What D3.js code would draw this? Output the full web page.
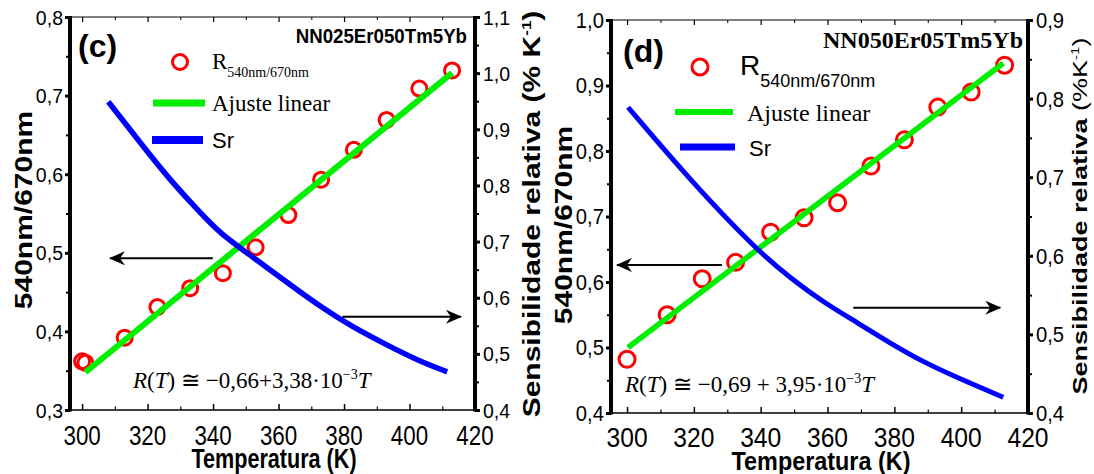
<!DOCTYPE html>
<html>
<head>
<meta charset="utf-8">
<script src="https://cdnjs.cloudflare.com/ajax/libs/d3/7.8.5/d3.min.js"></script>
<style>
	body { margin: 0; background: #fff; }
</style>
</head>
<body>
<div id="chart"></div>
<script>

///////////////////////////////////////////////////////////////////////////
///////////////////////////////// Data ////////////////////////////////////
///////////////////////////////////////////////////////////////////////////

var tempTicks = [300, 320, 340, 360, 380, 400, 420];
var tempMinor = [310, 330, 350, 370, 390, 410];

//Panel (c) - NN025Er050Tm5Yb
var cTemp  = [300, 301, 313, 323, 333, 343, 353, 363, 373, 383, 393, 403, 413];
var cRatio = [0.362, 0.360, 0.392, 0.431, 0.455, 0.474, 0.507, 0.548, 0.593, 0.631, 0.669, 0.709, 0.732];
var cFitTemp  = [301, 413];
var cFitRatio = [0.348, 0.729];
var cSrTemp = [308, 315.5, 326, 336, 342, 352, 362.4, 372.5, 382.5, 393, 403, 411.5];
var cSr     = [0.949, 0.893, 0.815, 0.752, 0.715, 0.673, 0.628, 0.585, 0.548, 0.516, 0.487, 0.468];
var cLeftTicks  = [0.3, 0.4, 0.5, 0.6, 0.7, 0.8];
var cRightTicks = [0.4, 0.5, 0.6, 0.7, 0.8, 0.9, 1.0, 1.1];

//Panel (d) - NN050Er05Tm5Yb
var dTemp  = [300, 312, 322.5, 332.5, 343, 353, 363, 373, 383, 393, 403, 413];
var dRatio = [0.482, 0.550, 0.605, 0.630, 0.676, 0.698, 0.721, 0.777, 0.817, 0.867, 0.890, 0.931];
var dFitTemp  = [300.3, 412.6];
var dFitRatio = [0.500, 0.934];
var dSrTemp = [300.3, 318.9, 338.9, 348.8, 358.7, 368.9, 378.7, 388.6, 398.8, 412.6];
var dSr     = [0.789, 0.696, 0.607, 0.572, 0.541, 0.515, 0.489, 0.465, 0.445, 0.420];
var dLeftTicks  = [0.4, 0.5, 0.6, 0.7, 0.8, 0.9, 1.0];
var dRightTicks = [0.4, 0.5, 0.6, 0.7, 0.8, 0.9];

//Arrows pointing to the axis each curve belongs to [tempFrom, tempTo, value]
var cArrowLeft  = [339.9, 308.5, 0.493];
var cArrowRight = [379.5, 415.7, 0.566];
var dArrowLeft  = [328.4, 297.0, 0.626];
var dArrowRight = [367.7, 411.7, 0.534];

///////////////////////////////////////////////////////////////////////////
//////////////////////////// Set up the svg ///////////////////////////////
///////////////////////////////////////////////////////////////////////////

var sans = "'Liberation Sans', Arial, sans-serif",
	serif = "'Liberation Serif', 'Times New Roman', serif";
var fmt = function(d) { return d3.format(".1f")(d).replace(".", ","); };

var svg = d3.select("#chart").append("svg")
	.attr("width", 1094)
	.attr("height", 474)
	.style("background", "#fff");

svg.append("defs").append("marker")
	.attr("id", "arrowHead")
	.attr("viewBox", "0 -7 16 14")
	.attr("refX", 15)
	.attr("refY", 0)
	.attr("markerWidth", 16)
	.attr("markerHeight", 14)
	.attr("markerUnits", "userSpaceOnUse")
	.attr("orient", "auto")
	.append("path")
	.attr("d", "M0,-7L16,0L0,7L5,0Z")
	.style("fill", "#000");

//Text that may be squeezed horizontally (the original fonts are narrow)
function addText(g, str, x, y, o) {
	var tr = "translate(" + x + "," + y + ") scale(" + (o.sx || 1) + ",1)" + (o.rot ? " rotate(" + o.rot + ")" : "");
	return g.append("text")
		.attr("transform", tr)
		.attr("text-anchor", o.anchor || "start")
		.style("font-family", o.family || sans)
		.style("font-size", o.size + "px")
		.style("font-weight", o.weight || "normal")
		.style("font-style", o.italic ? "italic" : "normal")
		.style("fill", "#000")
		.text(str);
}

///////////////////////////////////////////////////////////////////////////
/////////////////////////////// Draw a panel //////////////////////////////
///////////////////////////////////////////////////////////////////////////

function drawPanel(p) {
	var x = d3.scaleLinear().domain(p.xDomain).range([p.left, p.right]);
	var yL = d3.scaleLinear().domain(p.yLeftDomain).range([p.bottom, p.top]);
	var yR = d3.scaleLinear().domain(p.yRightDomain).range([p.bottom, p.top]);
	var g = svg.append("g");

	//Minor ticks halfway between the major ones
	var halves = function(ticks) { return ticks.slice(1).map(function(t, i) { return (t + ticks[i]) / 2; }); };

	function ticks(axis, vals, size, w, tr) {
		g.append("g")
			.attr("transform", tr)
			.call(axis.tickValues(vals).tickSize(size).tickSizeOuter(0).tickFormat(""))
			.call(function(s) { s.select(".domain").remove(); })
			.selectAll("line").style("stroke", "#000").style("stroke-width", w);
	}
	ticks(d3.axisBottom(x), tempTicks, -6, 1.5, "translate(0," + p.bottom + ")");
	ticks(d3.axisBottom(x), tempMinor, -3.5, 1.2, "translate(0," + p.bottom + ")");
	ticks(d3.axisTop(x), tempTicks, -5, 1.2, "translate(0," + p.top + ")");
	ticks(d3.axisTop(x), tempMinor, -3, 1, "translate(0," + p.top + ")");
	ticks(d3.axisLeft(yL), p.leftTicks, 5, 3, "translate(" + p.left + ",0)");
	ticks(d3.axisLeft(yL), halves(p.leftTicks), 4, 2, "translate(" + p.left + ",0)");
	ticks(d3.axisRight(yR), p.rightTicks, 5, 3, "translate(" + p.right + ",0)");
	ticks(d3.axisRight(yR), halves(p.rightTicks), 4, 2, "translate(" + p.right + ",0)");

	//Frame: thin top and bottom, thick left and right
	g.append("line").attr("x1", p.left).attr("x2", p.right).attr("y1", p.top).attr("y2", p.top)
		.style("stroke", "#000").style("stroke-width", 1.2);
	g.append("line").attr("x1", p.left).attr("x2", p.right).attr("y1", p.bottom).attr("y2", p.bottom)
		.style("stroke", "#000").style("stroke-width", 1.6);
	[p.left, p.right].forEach(function(xx) {
		g.append("line").attr("x1", xx).attr("x2", xx).attr("y1", p.top - 1).attr("y2", p.bottom + 1.5)
			.style("stroke", "#000").style("stroke-width", 4);
	});

	//Tick labels
	tempTicks.forEach(function(t) {
		addText(g, t, x(t), p.xLabelY, { size: p.xLabelSize, sx: p.xLabelSx, anchor: "middle" });
	});
	p.leftTicks.forEach(function(t) {
		addText(g, fmt(t), p.left - 7, yL(t) + p.yLabelSize * 0.36, { size: p.yLabelSize, sx: p.yLabelSx, anchor: "end" });
	});
	p.rightTicks.forEach(function(t) {
		addText(g, fmt(t), p.right + 8, yR(t) + p.yLabelSize * 0.36, { size: p.yLabelSize, sx: p.yLabelSx });
	});

	//Data circles
	g.selectAll(".dot")
		.data(p.temp.map(function(t, i) { return [t, p.ratio[i]]; }))
		.enter().append("circle")
		.attr("class", "dot")
		.attr("cx", function(d) { return x(d[0]); })
		.attr("cy", function(d) { return yL(d[1]); })
		.attr("r", p.dotR)
		.style("fill", "none")
		.style("stroke", "#ff0000")
		.style("stroke-width", 3);

	//Linear fit
	g.append("path")
		.datum(p.fitTemp.map(function(t, i) { return [t, p.fitRatio[i]]; }))
		.attr("d", d3.line().x(function(d) { return x(d[0]); }).y(function(d) { return yL(d[1]); }))
		.style("fill", "none")
		.style("stroke", "#00ee00")
		.style("stroke-width", p.fitW);

	//Relative sensitivity
	g.append("path")
		.datum(p.srTemp.map(function(t, i) { return [t, p.sr[i]]; }))
		.attr("d", d3.line().curve(d3.curveBasis).x(function(d) { return x(d[0]); }).y(function(d) { return yR(d[1]); }))
		.style("fill", "none")
		.style("stroke", "#0000ff")
		.style("stroke-width", p.srW);

	//Arrows
	[[p.arrowLeft, yL], [p.arrowRight, yR]].forEach(function(a) {
		g.append("line")
			.attr("x1", x(a[0][0])).attr("x2", x(a[0][1]))
			.attr("y1", a[1](a[0][2])).attr("y2", a[1](a[0][2]))
			.attr("marker-end", "url(#arrowHead)")
			.style("stroke", "#000")
			.style("stroke-width", 2);
	});

	return g;
}

///////////////////////////////////////////////////////////////////////////
//////////////////////////////// Panel (c) ////////////////////////////////
///////////////////////////////////////////////////////////////////////////

var gc = drawPanel({
	left: 70, right: 475, top: 17, bottom: 410,
	xDomain: [296.3, 420], yLeftDomain: [0.3, 0.8], yRightDomain: [0.4, 1.1],
	leftTicks: cLeftTicks, rightTicks: cRightTicks,
	temp: cTemp, ratio: cRatio, fitTemp: cFitTemp, fitRatio: cFitRatio, srTemp: cSrTemp, sr: cSr,
	arrowLeft: cArrowLeft, arrowRight: cArrowRight,
	xLabelY: 445, xLabelSize: 28, xLabelSx: 0.8, yLabelSize: 21, yLabelSx: 0.93,
	dotR: 7.5, fitW: 6, srW: 5.5
});

addText(gc, "(c)", 78, 57, { size: 32, weight: "bold" });
addText(gc, "NN025Er050Tm5Yb", 467, 43, { size: 21, weight: "bold", sx: 0.89, anchor: "end" });

//Legend
gc.append("circle").attr("cx", 180).attr("cy", 62).attr("r", 7.5)
	.style("fill", "none").style("stroke", "#ff0000").style("stroke-width", 3);
var rc = addText(gc, "R", 212, 69, { size: 23, family: serif });
rc.append("tspan").attr("dy", 8).style("font-size", "14px").text("540nm/670nm");
gc.append("line").attr("x1", 153).attr("x2", 205).attr("y1", 103).attr("y2", 103)
	.style("stroke", "#00ee00").style("stroke-width", 7);
addText(gc, "Ajuste linear", 212, 111, { size: 23, family: serif });
gc.append("line").attr("x1", 152).attr("x2", 203).attr("y1", 140).attr("y2", 140)
	.style("stroke", "#0000ff").style("stroke-width", 8);
addText(gc, "Sr", 212, 148, { size: 22 });

//Equation
var ec = addText(gc, "", 133, 388, { size: 23, family: serif });
ec.append("tspan").style("font-style", "italic").text("R");
ec.append("tspan").text("(");
ec.append("tspan").style("font-style", "italic").text("T");
ec.append("tspan").text(") \u2245 \u22120,66+3,38\u00B710");
ec.append("tspan").attr("dy", -9).style("font-size", "14px").text("\u22123");
ec.append("tspan").attr("dy", 9).style("font-style", "italic").text("T");

//Axis titles
addText(gc, "540nm/670nm", 32, 210, { size: 30, weight: "bold", sx: 0.78, rot: -90, anchor: "middle" });
var src = addText(gc, "Sensibilidade relativa (% K", 540, 214, { size: 30, weight: "bold", sx: 0.78, rot: -90, anchor: "middle" });
src.append("tspan").attr("dy", -11).style("font-size", "17px").text("-1");
src.append("tspan").attr("dy", 11).text(")");
addText(gc, "Temperatura (K)", 274, 468, { size: 27, weight: "bold", sx: 0.8, anchor: "middle" });

///////////////////////////////////////////////////////////////////////////
//////////////////////////////// Panel (d) ////////////////////////////////
///////////////////////////////////////////////////////////////////////////

var gd = drawPanel({
	left: 611, right: 1028, top: 20, bottom: 413,
	xDomain: [295.2, 420], yLeftDomain: [0.4, 1.0], yRightDomain: [0.4, 0.9],
	leftTicks: dLeftTicks, rightTicks: dRightTicks,
	temp: dTemp, ratio: dRatio, fitTemp: dFitTemp, fitRatio: dFitRatio, srTemp: dSrTemp, sr: dSr,
	arrowLeft: dArrowLeft, arrowRight: dArrowRight,
	xLabelY: 447, xLabelSize: 28, xLabelSx: 0.88, yLabelSize: 22, yLabelSx: 0.92,
	dotR: 8, fitW: 5.5, srW: 5
});

addText(gd, "(d)", 623, 62, { size: 32, weight: "bold" });
addText(gd, "NN050Er05Tm5Yb", 1023, 48, { size: 24, weight: "bold", family: serif, anchor: "end" });

//Legend
gd.append("circle").attr("cx", 700).attr("cy", 67).attr("r", 8)
	.style("fill", "none").style("stroke", "#ff0000").style("stroke-width", 3);
var rd = addText(gd, "R", 740, 75, { size: 28 });
rd.append("tspan").attr("dy", 12).style("font-size", "18px").text("540nm/670nm");
gd.append("line").attr("x1", 675).attr("x2", 733).attr("y1", 112).attr("y2", 112)
	.style("stroke", "#00ee00").style("stroke-width", 6);
addText(gd, "Ajuste linear", 747, 121, { size: 24, family: serif });
gd.append("line").attr("x1", 680).attr("x2", 735).attr("y1", 147).attr("y2", 147)
	.style("stroke", "#0000ff").style("stroke-width", 7);
addText(gd, "Sr", 749, 156, { size: 22 });

//Equation
var ed = addText(gd, "", 625, 392, { size: 23, family: serif });
ed.append("tspan").style("font-style", "italic").text("R");
ed.append("tspan").text("(");
ed.append("tspan").style("font-style", "italic").text("T");
ed.append("tspan").text(") \u2245 \u22120,69 + 3,95\u00B710");
ed.append("tspan").attr("dy", -9).style("font-size", "14px").text("\u22123");
ed.append("tspan").attr("dy", 9).style("font-style", "italic").text("T");

//Axis titles
addText(gd, "540nm/670nm", 572, 225, { size: 30, weight: "bold", sx: 0.78, rot: -90, anchor: "middle" });
var srd = addText(gd, "Sensibilidade relativa ", 1087, 216, { size: 27, weight: "bold", sx: 0.78, rot: -90, anchor: "middle" });
srd.append("tspan").style("font-weight", "normal").text("(%K");
srd.append("tspan").attr("dy", -10).style("font-weight", "normal").style("font-size", "15px").text("-1");
srd.append("tspan").attr("dy", 10).style("font-weight", "normal").text(")");
addText(gd, "Temperatura (K)", 821, 470, { size: 26, weight: "bold", sx: 0.9, anchor: "middle" });

</script>
</body>
</html>
